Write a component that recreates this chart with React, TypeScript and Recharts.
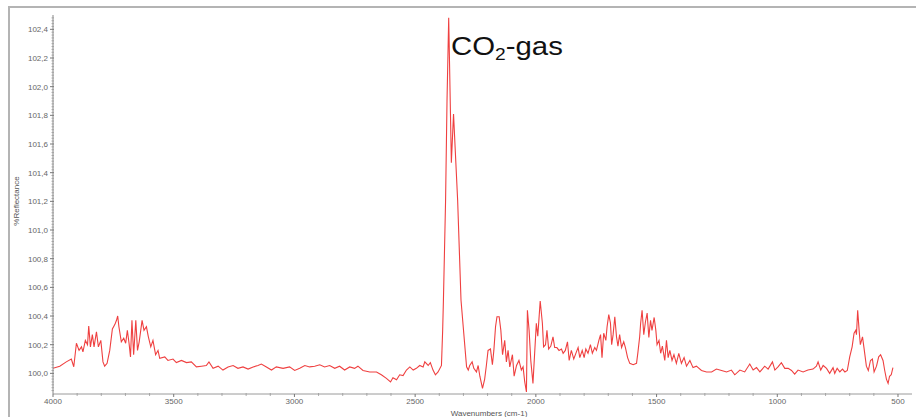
import React from 'react';
import { LineChart, Line, XAxis, YAxis } from 'recharts';

const wavenumbers = [
  4000, 3972, 3945, 3924, 3914, 3903, 3892, 3882, 3876, 3866, 3857, 3852, 3845, 3837, 3830, 3820, 3812, 3802,
  3793, 3786, 3776, 3765, 3754, 3744, 3737, 3732, 3727, 3717, 3707, 3699, 3692, 3685, 3679, 3673, 3666, 3657,
  3650, 3643, 3631, 3623, 3613, 3605, 3595, 3586, 3575, 3565, 3558, 3537, 3524, 3503, 3489, 3468, 3447, 3427,
  3406, 3385, 3365, 3354, 3337, 3316, 3296, 3275, 3254, 3234, 3213, 3192, 3171, 3151, 3137, 3116, 3095, 3075,
  3047, 3020, 2999, 2978, 2957, 2937, 2916, 2895, 2875, 2854, 2833, 2813, 2792, 2771, 2751, 2737, 2716, 2688,
  2660, 2640, 2619, 2602, 2592, 2577, 2564, 2550, 2536, 2522, 2508, 2495, 2481, 2467, 2460, 2446, 2437, 2426,
  2416, 2405, 2391, 2386, 2383, 2374, 2368, 2361, 2350, 2341, 2324, 2310, 2287, 2280, 2274, 2264, 2257, 2246,
  2239, 2232, 2221, 2212, 2205, 2198, 2188, 2180, 2174, 2167, 2161, 2152, 2145, 2138, 2129, 2122, 2115, 2108,
  2097, 2090, 2080, 2070, 2060, 2053, 2046, 2039, 2035, 2028, 2021, 2012, 1998, 1992, 1982, 1973, 1968, 1960,
  1954, 1947, 1938, 1929, 1922, 1913, 1904, 1894, 1887, 1878, 1869, 1862, 1853, 1843, 1832, 1825, 1818, 1808,
  1800, 1793, 1784, 1774, 1766, 1756, 1749, 1739, 1732, 1726, 1719, 1710, 1705, 1698, 1691, 1686, 1680, 1673,
  1666, 1660, 1653, 1645, 1636, 1629, 1620, 1611, 1597, 1583, 1577, 1570, 1566, 1560, 1553, 1546, 1539, 1532,
  1525, 1519, 1510, 1503, 1498, 1490, 1483, 1476, 1466, 1459, 1452, 1445, 1436, 1428, 1418, 1408, 1397, 1386,
  1376, 1362, 1349, 1335, 1314, 1293, 1272, 1252, 1238, 1210, 1190, 1176, 1155, 1135, 1114, 1100, 1086, 1072,
  1052, 1038, 1020, 1010, 997, 983, 969, 955, 941, 928, 914, 893, 873, 852, 838, 831, 820, 810,
  796, 783, 769, 762, 752, 741, 730, 720, 710, 700, 690, 682, 675, 672, 667, 661, 656, 647,
  641, 631, 623, 614, 606, 599, 589, 580, 572, 562, 555, 548, 541, 535, 528, 521,
];

const reflectance = [
  100.035, 100.05, 100.08, 100.1, 100.046, 100.21, 100.16, 100.185, 100.15, 100.23, 100.2, 100.33, 100.185, 100.27, 100.185, 100.29, 100.185, 100.23,
  100.08, 100.05, 100.07, 100.16, 100.31, 100.34, 100.37, 100.4, 100.325, 100.22, 100.245, 100.21, 100.3, 100.21, 100.115, 100.37, 100.13, 100.37,
  100.16, 100.22, 100.37, 100.3, 100.325, 100.255, 100.185, 100.23, 100.13, 100.16, 100.105, 100.115, 100.09, 100.1, 100.075, 100.09, 100.075, 100.08,
  100.045, 100.05, 100.055, 100.08, 100.035, 100.05, 100.023, 100.045, 100.055, 100.035, 100.045, 100.03, 100.045, 100.055, 100.065, 100.045, 100.023, 100.045,
  100.035, 100.045, 100.02, 100.035, 100.055, 100.045, 100.05, 100.06, 100.045, 100.055, 100.035, 100.05, 100.023, 100.045, 100.035, 100.05, 100.02, 100.01,
  100.01, 99.99, 99.965, 99.94, 99.97, 99.955, 99.99, 99.985, 100.023, 100.045, 100.023, 100.035, 100.055, 100.045, 100.08, 100.055, 100.075, 100.023,
  99.99, 100.01, 100.055, 100.3, 100.5, 101.2, 101.9, 102.48, 101.47, 101.81, 101.21, 100.51, 100.046, 100.023, 100.055, 100.08, 100.035, 100.01,
  100.055, 99.98, 99.895, 99.96, 100.055, 100.16, 100.17, 100.06, 100.16, 100.325, 100.395, 100.395, 100.3, 100.13, 100.23, 100.08, 100.16, 100.045,
  100.13, 99.98, 100.055, 100.09, 100.023, 100.045, 99.94, 99.87, 100.44, 100.3, 100.09, 99.93, 100.35, 100.26, 100.505, 100.35, 100.185, 100.2,
  100.3, 100.17, 100.19, 100.255, 100.18, 100.18, 100.16, 100.17, 100.14, 100.16, 100.22, 100.09, 100.16, 100.1, 100.15, 100.18, 100.11, 100.16,
  100.11, 100.17, 100.14, 100.2, 100.14, 100.18, 100.16, 100.23, 100.27, 100.11, 100.28, 100.23, 100.325, 100.41, 100.35, 100.2, 100.27, 100.395,
  100.255, 100.19, 100.27, 100.18, 100.22, 100.18, 100.11, 100.07, 100.06, 100.07, 100.15, 100.255, 100.35, 100.44, 100.27, 100.36, 100.42, 100.25,
  100.37, 100.3, 100.39, 100.3, 100.2, 100.23, 100.14, 100.19, 100.09, 100.23, 100.11, 100.16, 100.09, 100.13, 100.07, 100.14, 100.07, 100.11,
  100.05, 100.09, 100.04, 100.05, 100.02, 100.01, 100.01, 100.03, 100.023, 100.01, 100.023, 99.99, 100.023, 100.01, 100.065, 100.023, 100.04, 100.01,
  100.05, 100.03, 100.08, 100.023, 100.045, 100.075, 100.035, 100.035, 100.02, 99.995, 100.023, 100.01, 100.023, 100.03, 100.05, 100.08, 100.023, 100.055,
  100.035, 100.0, 100.04, 100.0, 100.035, 100.01, 100.03, 100.01, 100.02, 100.115, 100.185, 100.28, 100.3, 100.27, 100.44, 100.3, 100.2, 100.255,
  100.18, 100.05, 100.02, 100.09, 100.1, 100.01, 100.05, 100.115, 100.13, 100.09, 100.02, 99.96, 99.93, 99.98, 99.99, 100.04,
];

const xMajorTicks = [4000, 3500, 3000, 2500, 2000, 1500, 1000, 500];
const yMajorTicks = [100.0, 100.2, 100.4, 100.6, 100.8, 101.0, 101.2, 101.4, 101.6, 101.8, 102.0, 102.2, 102.4];

const xMinorTicks: number[] = [];
for (let v = 4000; v >= 500; v -= 100) xMinorTicks.push(v);
const yMinorTicks: number[] = [];
for (let i = 0; i <= 130; i++) yMinorTicks.push(Math.round((99.88 + i * 0.02) * 1000) / 1000);

const data = wavenumbers.map((w, i) => ({ wn: w, r: reflectance[i] }));

const FONT = '"Liberation Sans", Arial, sans-serif';
const TICK_COLOR = '#666';

const isMajor = (v: number, majors: number[]) => majors.some((m) => Math.abs(m - v) < 1e-6);

const YTick = (props: any) => {
  const { x, y, payload } = props;
  const v = payload.value;
  if (isMajor(v, yMajorTicks)) {
    return (
      <g>
        <line x1={x - 3} x2={x + 1} y1={y} y2={y} stroke="#777" strokeWidth={1} />
        <text x={x - 5} y={y + 3} fontSize={8} fontFamily={FONT} fill={TICK_COLOR} textAnchor="end">
          {v.toFixed(1).replace('.', ',')}
        </text>
      </g>
    );
  }
  return <line x1={x - 1.5} x2={x + 1} y1={y} y2={y} stroke="#999" strokeWidth={0.8} />;
};

const XTick = (props: any) => {
  const { x, y, payload } = props;
  const v = payload.value;
  if (isMajor(v, xMajorTicks)) {
    return (
      <g>
        <line x1={x} x2={x} y1={y} y2={y + 3} stroke="#777" strokeWidth={1} />
        <text x={x} y={y + 10} fontSize={8} fontFamily={FONT} fill={TICK_COLOR} textAnchor="middle">
          {v}
        </text>
      </g>
    );
  }
  return <line x1={x} x2={x} y1={y - 1} y2={y + 2} stroke="#999" strokeWidth={0.8} />;
};

export default function App() {
  return (
    <div style={{ position: 'absolute', left: 0, top: 0, width: 916, height: 417, background: '#fff', overflow: 'hidden' }}>
      <div
        style={{
          position: 'absolute',
          left: 8,
          top: 6,
          width: 940,
          height: 440,
          borderTop: '2px solid #b4b4b4',
          borderLeft: '2px solid #b4b4b4',
        }}
      />
      <div style={{ position: 'absolute', left: 0, top: 0 }}>
        <LineChart width={916} height={417} data={data} margin={{ top: 15, right: 4, bottom: 0, left: 0 }}>
          <XAxis
            dataKey="wn"
            type="number"
            domain={[442, 4000]}
            reversed
            allowDataOverflow
            ticks={xMinorTicks}
            interval={0}
            tick={<XTick />}
            tickLine={false}
            tickSize={0}
            tickMargin={0}
            height={23}
            axisLine={{ stroke: '#9a9a9a', strokeWidth: 1 }}
          />
          <YAxis
            type="number"
            domain={[99.856, 102.5]}
            allowDataOverflow
            ticks={yMinorTicks}
            interval={0}
            tick={<YTick />}
            tickLine={false}
            tickSize={0}
            tickMargin={0}
            width={53}
            axisLine={{ stroke: '#888', strokeWidth: 1 }}
          />
          <Line
            type="linear"
            dataKey="r"
            stroke="#ef4040"
            strokeWidth={1.1}
            dot={false}
            isAnimationActive={false}
          />
        </LineChart>
      </div>
      <svg width={916} height={417} style={{ position: 'absolute', left: 0, top: 0, pointerEvents: 'none' }}>
        <text x={489} y={416} fontSize={8} fontFamily={FONT} fill="#555" textAnchor="middle">
          Wavenumbers (cm-1)
        </text>
        <text transform="translate(19,201) rotate(-90)" fontSize={8} fontFamily={FONT} fill="#555" textAnchor="middle">
          %Reflectance
        </text>
        <text transform="translate(451,55) scale(1.13,1)" fontSize={26} fontFamily={FONT} fill="#111">
          <tspan>CO</tspan>
          <tspan fontSize={17} dy={5}>2</tspan>
          <tspan dy={-5}>-gas</tspan>
        </text>
      </svg>
    </div>
  );
}
